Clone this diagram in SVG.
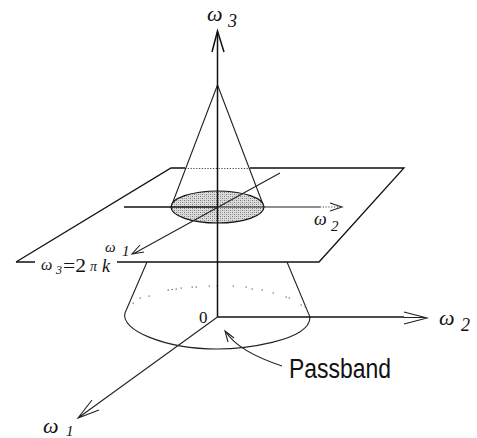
<svg xmlns="http://www.w3.org/2000/svg" width="477" height="438" viewBox="0 0 477 438">
<style>
.l{fill:none;stroke:#222;stroke-width:1.1}
.p{fill:none;stroke:#111;stroke-width:1.3}
.b{fill:none;stroke:#111;stroke-width:1.5}
.d{fill:none;stroke:#444;stroke-width:1.2;stroke-dasharray:1.2 1.6}
.s{fill:none;stroke:#555;stroke-width:1.2;stroke-linecap:round}
.t{font-family:"Liberation Serif",serif;font-style:italic;fill:#111}
.u{font-family:"Liberation Serif",serif;fill:#111}
</style>
<defs>
<pattern id="dots" width="4" height="4" patternUnits="userSpaceOnUse">
<rect width="4" height="4" fill="#dcdcdc"/>
<rect width="1" height="1" fill="#777"/>
<rect x="2" y="2" width="1" height="1" fill="#777"/>
<rect x="2" y="0" width="1" height="1" fill="#aaa"/>
<rect x="0" y="2" width="1" height="1" fill="#aaa"/>
</pattern>
</defs>
<rect width="477" height="438" fill="#fff"/>
<g id="plane">
<path class="p" d="M16 262H35M117 262H319L404 168H250"/>
<path class="p" d="M16 262L171 168H185"/>
<path class="d" d="M185 168.500H250"/>
</g>
<g id="passband">
<path class="l" d="M147 262L125 313C120 330 165 349 217 349C240 349 310 342 310 317L287 262"/>
<path class="s" d="M133 303h.5M140 298h.5M149 296h.5M168 290h.5M172 289.500h.5M176 289h.5M181 288h.5M192 287h.5M196 287h.5M209 286h.5M217 286h.5M233 286h.5M246 287h.5M252 289h.5M262 290h.5M273 293h.5M286 297h.5M289 298h.5M301 305h.5M305 307h.5"/>
</g>
<g id="cone">
<path class="l" d="M217.500 85L171 207M217.500 85L264 207"/>
<ellipse cx="217.500" cy="207" rx="46.500" ry="16" fill="url(#dots)" stroke="#111" stroke-width="1.2"/>
</g>
<g id="connectors">
<path class="b" d="M217.500 32V317"/>
<path class="b" d="M212 52L217.500 31L224 52"/>
<path class="b" d="M124 207H217"/>
<path class="l" d="M217 207H320"/>
<path class="d" d="M320 207H340"/>
<path class="l" d="M330 203L342 207L330 211"/>
<path class="l" d="M280 173L133 254M140 245L132 254L144 252"/>
<path class="b" d="M217.500 317H404"/>
<path class="l" d="M404 317.500H425M404 312L427 318L404 324"/>
<path class="l" d="M217.500 317L78 418M92 400L78 418L99 410"/>
<path class="l" d="M282 366C258 358 236 348 226 332M228 342L225 331L234 338"/>
</g>
<g id="labels">
<text class="t" x="207" y="21" font-size="22">ω</text><text class="t" x="228" y="27" font-size="18">3</text>
<text class="t" x="314" y="225" font-size="18">ω</text><text class="t" x="331" y="231" font-size="15">2</text>
<text class="t" x="105" y="252" font-size="15">ω</text><text class="t" x="122" y="256" font-size="15">1</text>
<text class="t" x="41" y="270" font-size="16">ω</text><text class="t" x="56" y="274" font-size="12">3</text>
<text class="u" x="63" y="272" font-size="19" textLength="23" lengthAdjust="spacingAndGlyphs">=2</text><text class="t" x="90" y="271" font-size="14">π</text><text class="t" x="102" y="272" font-size="18">k</text>
<text class="u" x="199" y="323" font-size="17">0</text>
<text class="t" x="439" y="325" font-size="22">ω</text><text class="t" x="461" y="331" font-size="18">2</text>
<text class="t" x="43" y="433" font-size="22">ω</text><text class="t" x="66" y="436" font-size="15">1</text>
<text x="289" y="378" font-size="27" textLength="102" lengthAdjust="spacingAndGlyphs" style="font-family:'Liberation Sans',sans-serif" fill="#111">Passband</text>
</g>
</svg>
